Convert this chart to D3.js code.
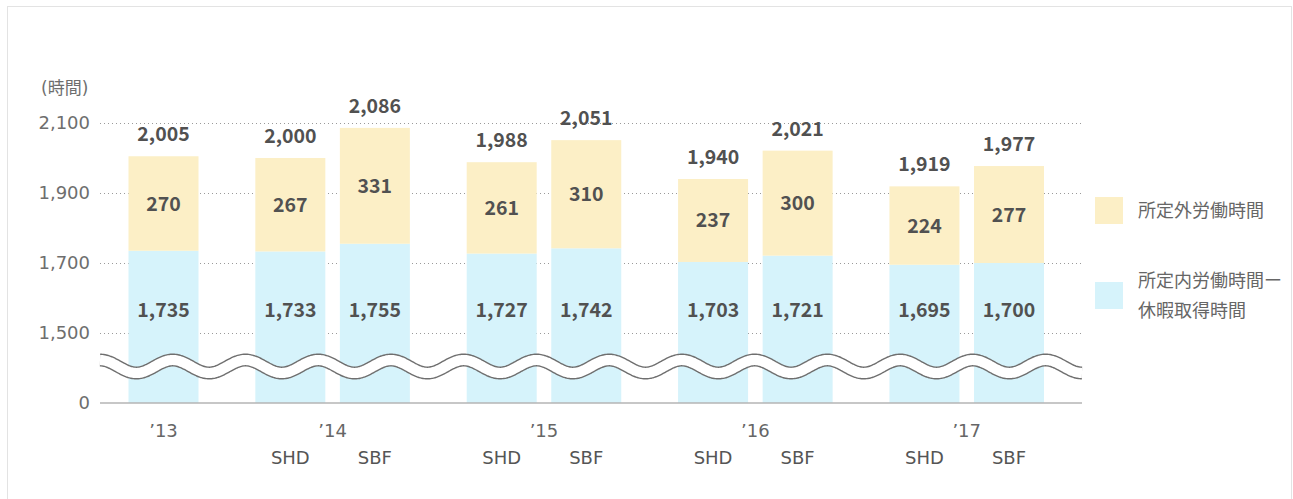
<!DOCTYPE html>
<html>
<head>
<meta charset="utf-8">
<script src="https://cdnjs.cloudflare.com/ajax/libs/d3/7.8.5/d3.min.js"></script>
<style>
  body { margin: 0; background: #fff; }
  svg { font-family: "DejaVu Sans", "Noto Sans CJK JP", sans-serif; }
</style>
</head>
<body>
<div id="chart"></div>
<script>
// chart values
var years = ["\u201913", "\u201914", "\u201915", "\u201916", "\u201917"];
var barYears = ["\u201913", "\u201914", "\u201914", "\u201915", "\u201915", "\u201916", "\u201916", "\u201917", "\u201917"];
var barCompanies = ["", "SHD", "SBF", "SHD", "SBF", "SHD", "SBF", "SHD", "SBF"];
var scheduled = [1735, 1733, 1755, 1727, 1742, 1703, 1721, 1695, 1700]; // 所定内労働時間ー休暇取得時間
var overtime = [270, 267, 331, 261, 310, 237, 300, 224, 277];            // 所定外労働時間
var totals = [2005, 2000, 2086, 1988, 2051, 1940, 2021, 1919, 1977];
var yTicks = [0, 1500, 1700, 1900, 2100];
var legendLabels = [["所定外労働時間"], ["所定内労働時間ー", "休暇取得時間"]];

var colors = { over: "#fcefc6", base: "#d6f3fb" };
var W = 1293, H = 499;

var svg = d3.select("#chart").append("svg")
    .attr("width", W)
    .attr("height", H);

// outer frame
svg.append("rect")
    .attr("x", 7.5).attr("y", 6.5)
    .attr("width", 1284).attr("height", 520)
    .attr("fill", "#fff")
    .attr("stroke", "#e3e3e3");

// y scale with a break between 0 and 1,500
var y = d3.scaleLinear()
    .domain([0, 1500, 2100])
    .range([403, 333, 123]);

// bar slots: one unit per bar, half a unit extra between year groups
var slot = barYears.map(function(yr, i) { return i + 0.5 * years.indexOf(yr); });
var x = d3.scaleLinear()
    .domain([0, 10])
    .range([163.5, 1009]);
var barW = 70;
var plotLeft = 100, plotRight = 1082;

// dotted grid lines
svg.append("g")
    .selectAll("line")
    .data(yTicks.filter(function(d) { return d > 0; }))
    .enter().append("line")
    .attr("x1", plotLeft).attr("x2", plotRight)
    .attr("y1", function(d) { return y(d) + 0.5; })
    .attr("y2", function(d) { return y(d) + 0.5; })
    .attr("stroke", "#9a9a9a")
    .attr("stroke-width", 1)
    .attr("stroke-dasharray", "1,3");

// y axis labels
var yAxis = svg.append("g")
    .attr("transform", "translate(" + (plotLeft - 10) + ",0)")
    .call(d3.axisLeft(y).tickValues(yTicks).tickSize(0).tickPadding(0).tickFormat(d3.format(",")));
yAxis.select(".domain").remove();
yAxis.selectAll("text")
    .attr("fill", "#6e6e6e")
    .style("font-size", "18px")
    .style("font-family", "'DejaVu Sans', sans-serif");

svg.append("text")
    .attr("x", 41).attr("y", 94)
    .attr("fill", "#6e6e6e")
    .style("font-size", "17px")
    .text("(時間)");

// bars
var bars = svg.append("g").selectAll("g")
    .data(scheduled)
    .enter().append("g");

bars.append("rect")
    .attr("x", function(d, i) { return x(slot[i]) - barW / 2; })
    .attr("width", barW)
    .attr("y", function(d) { return y(d); })
    .attr("height", function(d) { return y(0) - y(d); })
    .attr("fill", colors.base);

bars.append("rect")
    .attr("x", function(d, i) { return x(slot[i]) - barW / 2; })
    .attr("width", barW)
    .attr("y", function(d, i) { return y(totals[i]); })
    .attr("height", function(d, i) { return y(d) - y(totals[i]); })
    .attr("fill", colors.over);

// axis break (wave)
var waveY = (y(1500) + y(0)) / 2 - 1.5;
var period = (plotRight - plotLeft) / 13.5;
var wavePts = d3.range(plotLeft, plotRight + 0.5, 1).map(function(px) {
    return [px, waveY - 6.5 * Math.cos(2 * Math.PI * (px - plotLeft) / period)];
});
var wave = d3.line().curve(d3.curveBasis);
svg.append("path")
    .attr("d", wave(wavePts))
    .attr("fill", "none")
    .attr("stroke", "#6f6f6f")
    .attr("stroke-width", 13);
svg.append("path")
    .attr("d", wave(wavePts))
    .attr("fill", "none")
    .attr("stroke", "#fff")
    .attr("stroke-width", 10.2);

// baseline
svg.append("line")
    .attr("x1", plotLeft).attr("x2", plotRight)
    .attr("y1", y(0)).attr("y2", y(0))
    .attr("stroke", "#b5b5b5")
    .attr("stroke-width", 1.5);

// value labels
var valueStyle = function(sel) {
    sel.attr("text-anchor", "middle")
       .attr("fill", "#515151")
       .style("font-family", "'Noto Sans CJK JP', sans-serif")
       .style("font-size", "19.5px")
       .style("font-weight", "bold");
};
var fmt = d3.format(",");

bars.append("text")
    .call(valueStyle)
    .attr("x", function(d, i) { return x(slot[i]); })
    .attr("y", function(d, i) { return y(totals[i]) - 15; })
    .text(function(d, i) { return fmt(totals[i]); });

bars.append("text")
    .call(valueStyle)
    .attr("x", function(d, i) { return x(slot[i]); })
    .attr("y", function(d, i) { return (y(d) + y(totals[i])) / 2; })
    .attr("dy", "0.36em")
    .text(function(d, i) { return fmt(overtime[i]); });

bars.append("text")
    .call(valueStyle)
    .attr("x", function(d, i) { return x(slot[i]); })
    .attr("y", y(1565))
    .attr("dy", "0.36em")
    .text(function(d) { return fmt(d); });

// category labels
svg.append("g").selectAll("text")
    .data(years)
    .enter().append("text")
    .attr("x", function(yr) {
        return d3.mean(slot.filter(function(s, i) { return barYears[i] === yr; }), x);
    })
    .attr("y", 437)
    .attr("text-anchor", "middle")
    .attr("fill", "#666")
    .style("font-size", "18px")
    .text(function(d) { return d; });

svg.append("g").selectAll("text")
    .data(barCompanies)
    .enter().append("text")
    .attr("x", function(d, i) { return x(slot[i]); })
    .attr("y", 464)
    .attr("text-anchor", "middle")
    .attr("fill", "#555")
    .style("font-size", "18px")
    .text(function(d) { return d; });

// legend
var legend = svg.append("g").selectAll("g")
    .data([colors.over, colors.base])
    .enter().append("g")
    .attr("transform", function(d, i) { return "translate(1095," + (197 + i * 85) + ")"; });

legend.append("rect")
    .attr("width", 28).attr("height", 27)
    .attr("fill", function(d) { return d; });

legend.each(function(d, i) {
    var lines = legendLabels[i];
    var g = d3.select(this);
    g.selectAll("text")
        .data(lines)
        .enter().append("text")
        .attr("x", 43)
        .attr("y", function(t, j) { return 13.5 - (lines.length - 1) * 15 + j * 30; })
        .attr("dy", "0.36em")
        .attr("fill", "#666")
        .style("font-family", "'Noto Sans CJK JP', sans-serif")
        .style("font-size", "18px")
        .text(function(t) { return t; });
});
</script>
</body>
</html>
